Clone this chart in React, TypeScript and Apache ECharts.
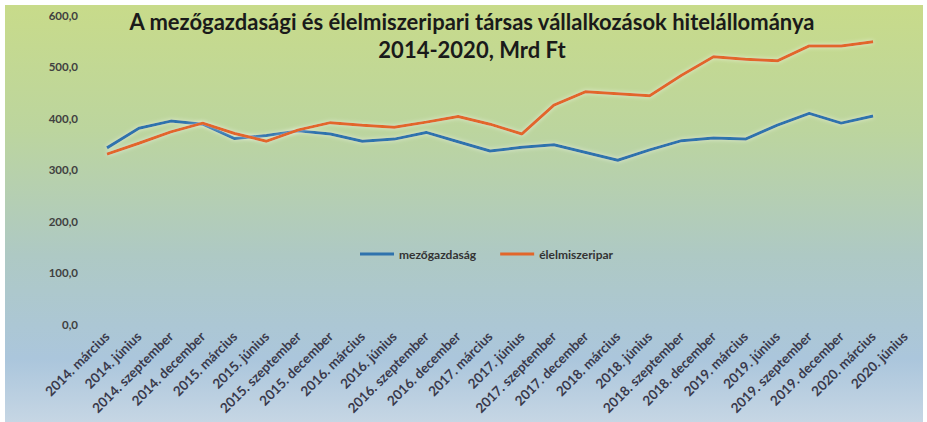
import React, { useEffect, useRef } from "react";
import * as echarts from "echarts";

const categories = [
  "2014. március", "2014. június", "2014. szeptember", "2014. december",
  "2015. március", "2015. június", "2015. szeptember", "2015. december",
  "2016. március", "2016. június", "2016. szeptember", "2016. december",
  "2017. március", "2017. június", "2017. szeptember", "2017. december",
  "2018. március", "2018. június", "2018. szeptember", "2018. december",
  "2019. március", "2019. június", "2019. szeptember", "2019. december",
  "2020. március", "2020. június",
];

const mezogazdasag = [
  342, 380, 394, 388, 360, 366, 375, 369, 355, 359, 372, 354,
  336, 343, 348, 333, 318, 338, 356, 361, 359, 386, 409, 390, 404,
];

const elelmiszeripar = [
  330, 351, 373, 390, 370, 355, 377, 391, 386, 382, 392, 403,
  388, 369, 425, 451, 447, 443, 483, 519, 514, 511, 540, 540, 548,
];

const yTicks = [0, 100, 200, 300, 400, 500, 600];

const titleLine1 = "A mezőgazdasági és élelmiszeripari társas vállalkozások hitelállománya";
const titleLine2 = "2014-2020, Mrd Ft";

const FONT = "Lato, 'Open Sans', sans-serif";

export default function App() {
  const ref = useRef<HTMLDivElement>(null);
  useEffect(() => {
    if (!ref.current) return;
    const chart = echarts.init(ref.current, undefined, { renderer: "svg" });
    const lineStyleExtra = { shadowColor: "rgba(255,255,255,0.55)", shadowBlur: 4 };
    chart.setOption({
      animation: false,
      backgroundColor: "#ffffff",
      graphic: [
        {
          type: "rect",
          z: -10,
          silent: true,
          shape: { x: 5, y: 5, width: 918, height: 417 },
          style: {
            fill: new echarts.graphic.LinearGradient(0, 0, 0, 1, [
              { offset: 0, color: "#c8db8a" },
              { offset: 0.3, color: "#bcd59e" },
              { offset: 0.6, color: "#aec9c4" },
              { offset: 0.85, color: "#abc6dc" },
              { offset: 1, color: "#c6d6e4" },
            ]),
          },
        },
      ],
      title: {
        text: titleLine1 + "\n" + titleLine2,
        left: 467,
        textAlign: "center",
        top: 2,
        textStyle: {
          fontFamily: FONT,
          fontWeight: "bold",
          fontSize: 22,
          color: "#1a1a1a",
          lineHeight: 28,
        },
      },
      legend: {
        top: 243,
        left: 355,
        itemWidth: 34,
        itemHeight: 3,
        itemGap: 24,
        icon: "rect",
        textStyle: {
          fontFamily: FONT,
          fontWeight: "bold",
          fontSize: 12,
          color: "#333333",
        },
        data: ["mezőgazdaság", "élelmiszeripar"],
      },
      grid: { left: 91, right: 6, top: 15, bottom: 98, containLabel: false },
      xAxis: {
        type: "category",
        data: categories,
        boundaryGap: true,
        axisLine: { show: false },
        axisTick: { show: false },
        axisLabel: {
          rotate: 45,
          interval: 0,
          margin: 10,
          fontFamily: FONT,
          fontWeight: "bold",
          fontSize: 13.5,
          color: "#3a3a4c",
        },
      },
      yAxis: {
        type: "value",
        min: yTicks[0],
        max: yTicks[yTicks.length - 1],
        interval: 100,
        axisLine: { show: false },
        axisTick: { show: false },
        splitLine: { show: false },
        axisLabel: {
          margin: 13,
          fontFamily: FONT,
          fontWeight: "bold",
          fontSize: 11.5,
          color: "#404040",
          formatter: (v: number) => v.toFixed(1).replace(".", ","),
        },
      },
      series: [
        {
          name: "mezőgazdaság",
          type: "line",
          data: mezogazdasag,
          symbol: "none",
          color: "#2f73ad",
          lineStyle: { width: 3, color: "#2f73ad", ...lineStyleExtra },
        },
        {
          name: "élelmiszeripar",
          type: "line",
          data: elelmiszeripar,
          symbol: "none",
          color: "#e2662a",
          lineStyle: { width: 3, color: "#e2662a", ...lineStyleExtra },
        },
      ],
    });
    return () => chart.dispose();
  }, []);
  return (
    <div
      ref={ref}
      style={{ position: "fixed", left: 0, top: 0, width: 927, height: 422 }}
    />
  );
}
